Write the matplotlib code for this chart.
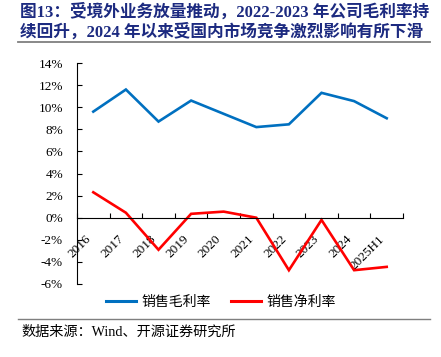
import matplotlib
matplotlib.use("Agg")
import matplotlib.pyplot as plt
from matplotlib.lines import Line2D

plt.rcParams['font.family'] = ['Liberation Serif', 'Noto Sans CJK SC']
plt.rcParams['axes.unicode_minus'] = False

# data (percent)
years = ["2016", "2017", "2018", "2019", "2020", "2021", "2022", "2023", "2024", "2025H1"]
gross_margin = [9.6, 11.6, 8.7, 10.6, 9.4, 8.2, 8.45, 11.3, 10.55, 9.0]
net_margin = [2.3, 0.45, -2.9, 0.35, 0.55, 0.0, -4.75, -0.2, -4.75, -4.45]
y_ticks = [14, 12, 10, 8, 6, 4, 2, 0, -2, -4, -6]

title_1 = "图13：受境外业务放量推动，2022-2023 年公司毛利率持"
title_2 = "续回升，2024 年以来受国内市场竞争激烈影响有所下滑"
source = "数据来源：Wind、开源证券研究所"

blue = "#0070C0"
red = "#FF0000"
navy = "#1C2A80"

fig = plt.figure(figsize=(4.41, 3.57), dpi=100)
ax = fig.add_axes([77 / 441, 1 - 284 / 357, 326 / 441, 221 / 357])

x = list(range(len(years)))
ax.plot(x, gross_margin, color=blue, lw=1.9, solid_joinstyle="miter")
ax.plot(x, net_margin, color=red, lw=1.9, solid_joinstyle="miter")

ax.set_xlim(-0.5, len(years) - 0.5)
ax.set_ylim(-6, 14)
ax.set_yticks(y_ticks)
ax.set_yticklabels([f"{v}%" for v in y_ticks], fontsize=9.5)
ax.tick_params(axis="y", direction="in", length=3.5, width=0.8, pad=10)

# category boundaries carry the tick marks, labels sit at the centres
ax.set_xticks([i - 0.5 for i in range(len(years) + 1)])
ax.set_xticklabels([])
ax.tick_params(axis="x", which="major", direction="in", length=3.5, width=0.8)
ax.set_xticks(x, labels=years, minor=True)
ax.tick_params(axis="x", which="minor", length=0, pad=11, labelsize=9.5, labelrotation=45)

for s in ["top", "right"]:
    ax.spines[s].set_visible(False)
ax.spines["bottom"].set_position(("data", 0))
ax.spines["left"].set_linewidth(0.8)
ax.spines["bottom"].set_linewidth(0.8)

handles = [Line2D([], [], color=blue, lw=2.2), Line2D([], [], color=red, lw=2.2)]
fig.legend(handles, ["销售毛利率", "销售净利率"], loc="center", bbox_to_anchor=(0.5, 1 - 302 / 357),
           ncol=2, frameon=False, handlelength=2.2, columnspacing=1.45, handletextpad=0.36,
           prop={"family": "Noto Sans CJK SC", "size": 10})

fig.text(20 / 441, 1 - 12 / 357, title_1, color=navy, fontsize=12, fontweight="bold", va="center")
fig.text(20 / 441, 1 - 32 / 357, title_2, color=navy, fontsize=12, fontweight="bold", va="center")
fig.add_artist(Line2D([18 / 441, 430 / 441], [1 - 42 / 357] * 2, color="#7F7F7F", lw=1.3))
fig.add_artist(Line2D([18 / 441, 430 / 441], [1 - 319 / 357] * 2, color="#7F7F7F", lw=1.0))
fig.text(21 / 441, 1 - 332 / 357, source, fontsize=10.2, va="center")

# align the rotated year labels after the ticks exist
fig.canvas.draw()
for lbl in ax.get_xticklabels(minor=True):
    lbl.set_horizontalalignment("right")
    lbl.set_verticalalignment("top")

fig.savefig("out.png", dpi=100)
